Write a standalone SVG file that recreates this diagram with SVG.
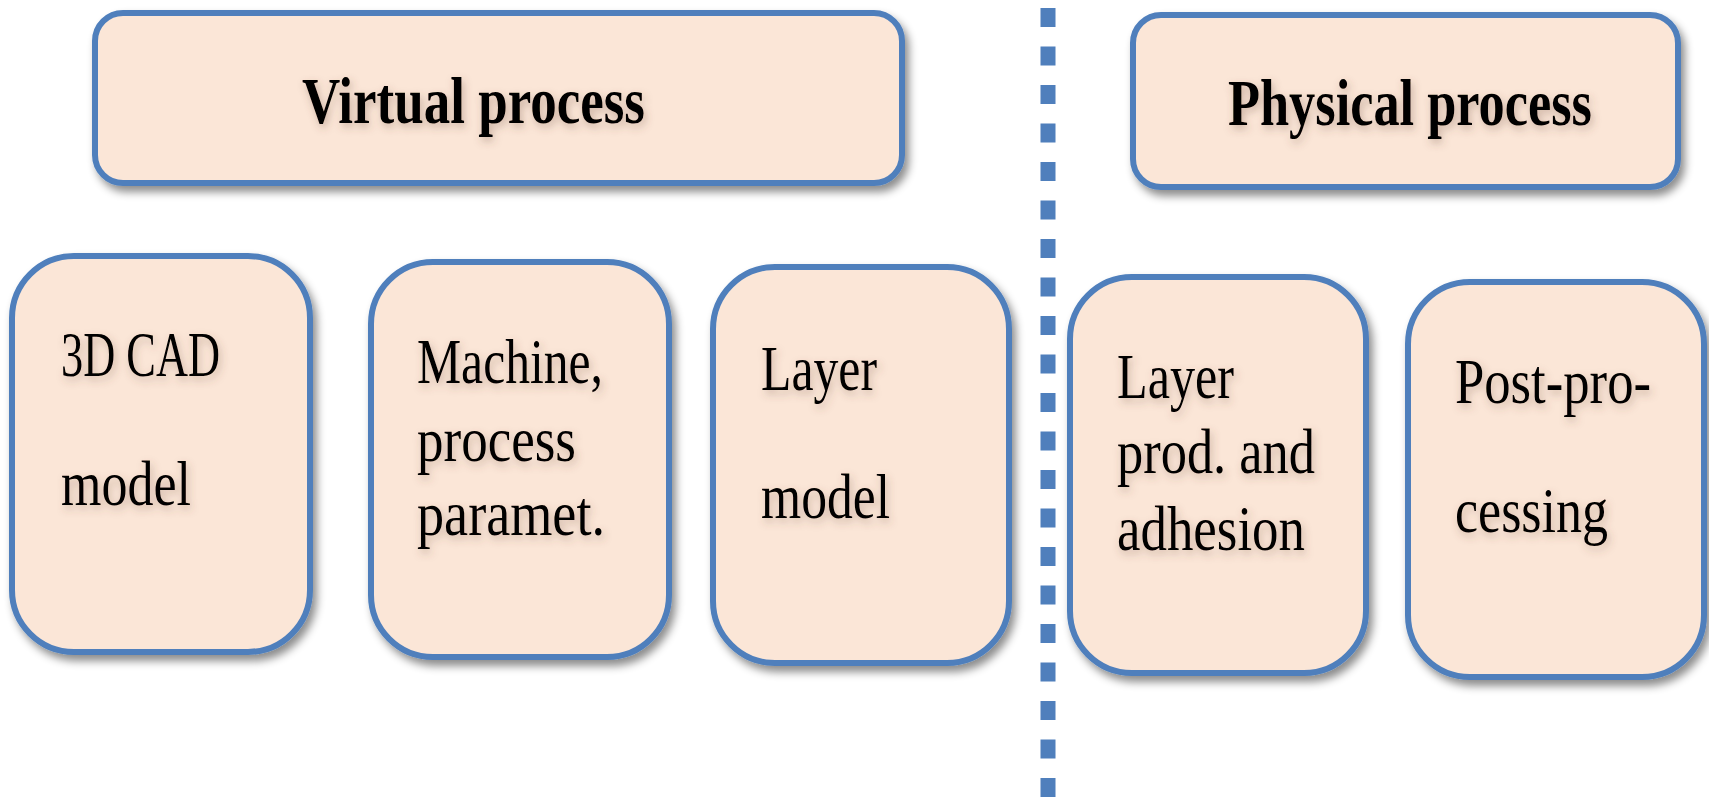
<svg xmlns="http://www.w3.org/2000/svg" width="1709" height="799" viewBox="0 0 1709 799">
  <defs>
    <filter id="boxShadow" x="-10%" y="-10%" width="125%" height="125%">
      <feDropShadow dx="4" dy="6" stdDeviation="4.5" flood-color="#000" flood-opacity="0.45"/>
    </filter>
    <filter id="textShadow" x="-10%" y="-30%" width="120%" height="170%">
      <feDropShadow dx="2" dy="4" stdDeviation="4" flood-color="#6b4a3a" flood-opacity="0.35"/>
    </filter>
    <style>
      .box { fill: #fbe6d7; stroke: #4f7fbc; stroke-width: 6; filter: url(#boxShadow); }
      .title { font-family: "Liberation Serif", "DejaVu Serif", serif; font-weight: bold; font-size: 65px; fill: #000; filter: url(#textShadow); }
      .label { font-family: "Liberation Serif", "DejaVu Serif", serif; font-size: 64px; fill: #000; filter: url(#textShadow); }
      .divider { stroke: #4f7fbc; stroke-width: 15; stroke-dasharray: 19 19.5; fill: none; }
    </style>
  </defs>
  <rect width="1709" height="799" fill="#ffffff"/>

  <!-- dashed separator between virtual and physical sides -->
  <g id="connectors">
    <line class="divider" x1="1048" y1="8" x2="1048" y2="799"/>
  </g>

  <g id="virtual-process">
    <rect class="box" x="95" y="13" width="807" height="170" rx="28"/>
    <text class="title" x="302" y="123" textLength="343" lengthAdjust="spacingAndGlyphs">Virtual process</text>
  </g>

  <g id="physical-process">
    <rect class="box" x="1133" y="15" width="545" height="172" rx="28"/>
    <text class="title" x="1228" y="125" textLength="364" lengthAdjust="spacingAndGlyphs">Physical process</text>
  </g>

  <g id="cad-model">
    <rect class="box" x="12" y="256" width="298" height="396" rx="62"/>
    <text class="label" x="61" y="376" textLength="159" lengthAdjust="spacingAndGlyphs">3D CAD</text>
    <text class="label" x="61" y="505" textLength="130" lengthAdjust="spacingAndGlyphs">model</text>
  </g>

  <g id="machine-params">
    <rect class="box" x="371" y="262" width="298" height="395" rx="62"/>
    <text class="label" x="417" y="383" textLength="186" lengthAdjust="spacingAndGlyphs">Machine,</text>
    <text class="label" x="417" y="461" textLength="159" lengthAdjust="spacingAndGlyphs">process</text>
    <text class="label" x="417" y="535" textLength="188" lengthAdjust="spacingAndGlyphs">paramet.</text>
  </g>

  <g id="layer-model">
    <rect class="box" x="713" y="267" width="296" height="396" rx="62"/>
    <text class="label" x="761" y="390" textLength="116" lengthAdjust="spacingAndGlyphs">Layer</text>
    <text class="label" x="761" y="518" textLength="129" lengthAdjust="spacingAndGlyphs">model</text>
  </g>

  <g id="layer-production">
    <rect class="box" x="1070" y="277" width="296" height="396" rx="62"/>
    <text class="label" x="1117" y="398" textLength="117" lengthAdjust="spacingAndGlyphs">Layer</text>
    <text class="label" x="1117" y="473" textLength="198" lengthAdjust="spacingAndGlyphs">prod. and</text>
    <text class="label" x="1117" y="550" textLength="188" lengthAdjust="spacingAndGlyphs">adhesion</text>
  </g>

  <g id="post-processing">
    <rect class="box" x="1408" y="282" width="296" height="395" rx="62"/>
    <text class="label" x="1455" y="403" textLength="196" lengthAdjust="spacingAndGlyphs">Post-pro-</text>
    <text class="label" x="1455" y="532" textLength="153" lengthAdjust="spacingAndGlyphs">cessing</text>
  </g>
</svg>
